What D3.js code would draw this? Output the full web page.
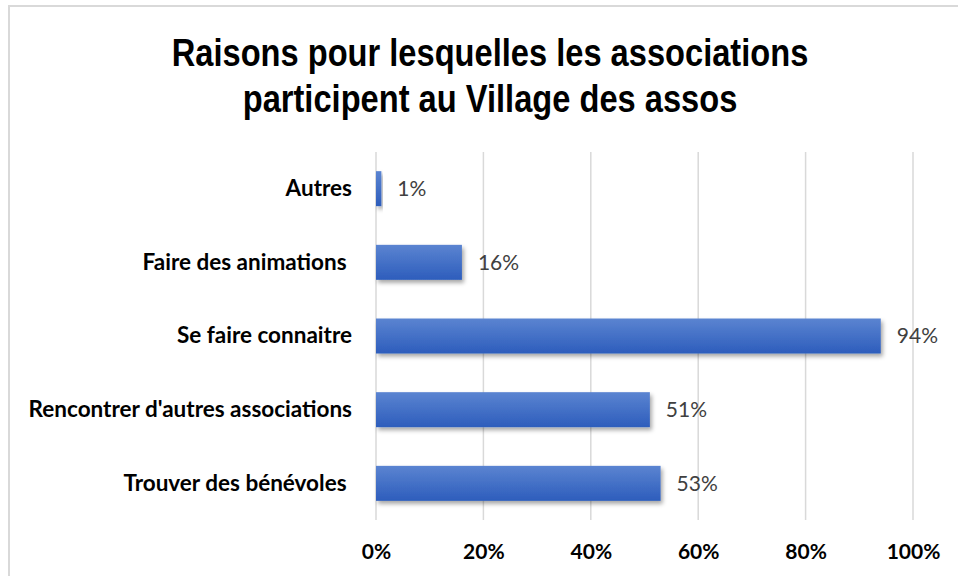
<!DOCTYPE html>
<html>
<head>
<meta charset="utf-8">
<script src="https://cdn.jsdelivr.net/npm/d3@7"></script>
<style>
  body { margin: 0; background: #fff; }
  svg { display: block; }
</style>
</head>
<body>
<div id="chart"></div>
<script>
// Bar chart: raisons de participation au Village des assos
var categories = ["Autres", "Faire des animations ", "Se faire connaitre", "Rencontrer d'autres associations", "Trouver des bénévoles "];
var values = [0.01, 0.16, 0.94, 0.51, 0.53];
var tickValues = [0, 0.2, 0.4, 0.6, 0.8, 1];
var titleLines = ["Raisons pour lesquelles les associations", "participent au Village des assos"];

var width = 958,
	height = 576,
	margin = {top: 152, right: 45, bottom: 56, left: 376};

var svg = d3.select("#chart").append("svg")
	.attr("width", width)
	.attr("height", height);

var defs = svg.append("defs");
var grad = defs.append("linearGradient")
	.attr("id", "barGrad")
	.attr("x1", 0).attr("y1", 0).attr("x2", 0).attr("y2", 1);
grad.append("stop").attr("offset", "0%").attr("stop-color", "#5b84d1");
grad.append("stop").attr("offset", "100%").attr("stop-color", "#2d5dbc");

var shadow = defs.append("filter")
	.attr("id", "shadow")
	.attr("x", "-10%").attr("y", "-30%").attr("width", "130%").attr("height", "180%");
shadow.append("feDropShadow")
	.attr("dx", 2).attr("dy", 3)
	.attr("stdDeviation", 2)
	.attr("flood-color", "#000")
	.attr("flood-opacity", 0.35);

// outer frame (only top and left edges are visible)
svg.append("path")
	.attr("d", "M9," + height + "V6H" + width)
	.attr("fill", "none")
	.attr("stroke", "#d9d9d9")
	.attr("stroke-width", 2);

// title, squeezed horizontally to look like a narrow face
var title = svg.append("text")
	.attr("transform", "translate(490,0) scale(0.837,1)")
	.attr("text-anchor", "middle")
	.attr("font-family", "'Liberation Sans Narrow', 'Arial Narrow', 'Liberation Sans', sans-serif")
	.attr("font-weight", "bold")
	.attr("font-size", 39)
	.attr("fill", "#000");
title.selectAll("tspan")
	.data(titleLines)
	.enter().append("tspan")
		.attr("x", 0)
		.attr("y", function(d, i){ return 66 + i * 46; })
		.text(function(d){ return d; });

var x = d3.scaleLinear()
	.domain([0, 1])
	.range([margin.left, width - margin.right]);

var y = d3.scaleBand()
	.domain(categories)
	.range([margin.top, height - margin.bottom])
	.paddingInner(0.525)
	.paddingOuter(0.26);

// gridlines
svg.append("g")
	.selectAll("line")
	.data(tickValues)
	.enter().append("line")
		.attr("x1", function(d){ return x(d); })
		.attr("x2", function(d){ return x(d); })
		.attr("y1", margin.top)
		.attr("y2", height - margin.bottom)
		.attr("stroke", "#d9d9d9")
		.attr("stroke-width", 1.5);

// x axis labels
var xAxis = svg.append("g")
	.attr("transform", "translate(0," + (height - margin.bottom) + ")")
	.call(d3.axisBottom(x).tickValues(tickValues).tickFormat(d3.format(".0%")).tickSize(0).tickPadding(24));
xAxis.select(".domain").remove();
xAxis.selectAll("text")
	.attr("font-family", "Lato, 'Open Sans', sans-serif")
	.attr("font-weight", "bold")
	.attr("font-size", 21)
	.attr("fill", "#000");

// y axis labels (keep trailing spaces of the source labels)
var yAxis = svg.append("g")
	.attr("transform", "translate(" + (margin.left - 24) + ",0)")
	.call(d3.axisLeft(y).tickSize(0).tickPadding(0));
yAxis.select(".domain").remove();
yAxis.selectAll("text")
	.style("white-space", "pre")
	.attr("font-family", "Lato, 'Open Sans', sans-serif")
	.attr("font-weight", "bold")
	.attr("font-size", 22.5)
	.attr("fill", "#000");

// bars
svg.append("g")
	.selectAll("rect")
	.data(values)
	.enter().append("rect")
		.attr("x", x(0))
		.attr("y", function(d, i){ return y(categories[i]); })
		.attr("width", function(d){ return x(d) - x(0); })
		.attr("height", y.bandwidth())
		.attr("fill", "url(#barGrad)")
		.attr("filter", "url(#shadow)");

// data labels
svg.append("g")
	.selectAll("text")
	.data(values)
	.enter().append("text")
		.attr("x", function(d){ return x(d) + 16; })
		.attr("y", function(d, i){ return y(categories[i]) + y.bandwidth() / 2; })
		.attr("dy", "0.35em")
		.attr("font-family", "Lato, 'Open Sans', sans-serif")
		.attr("font-size", 21)
		.attr("fill", "#404040")
		.text(function(d){ return d3.format(".0%")(d); });
</script>
</body>
</html>
